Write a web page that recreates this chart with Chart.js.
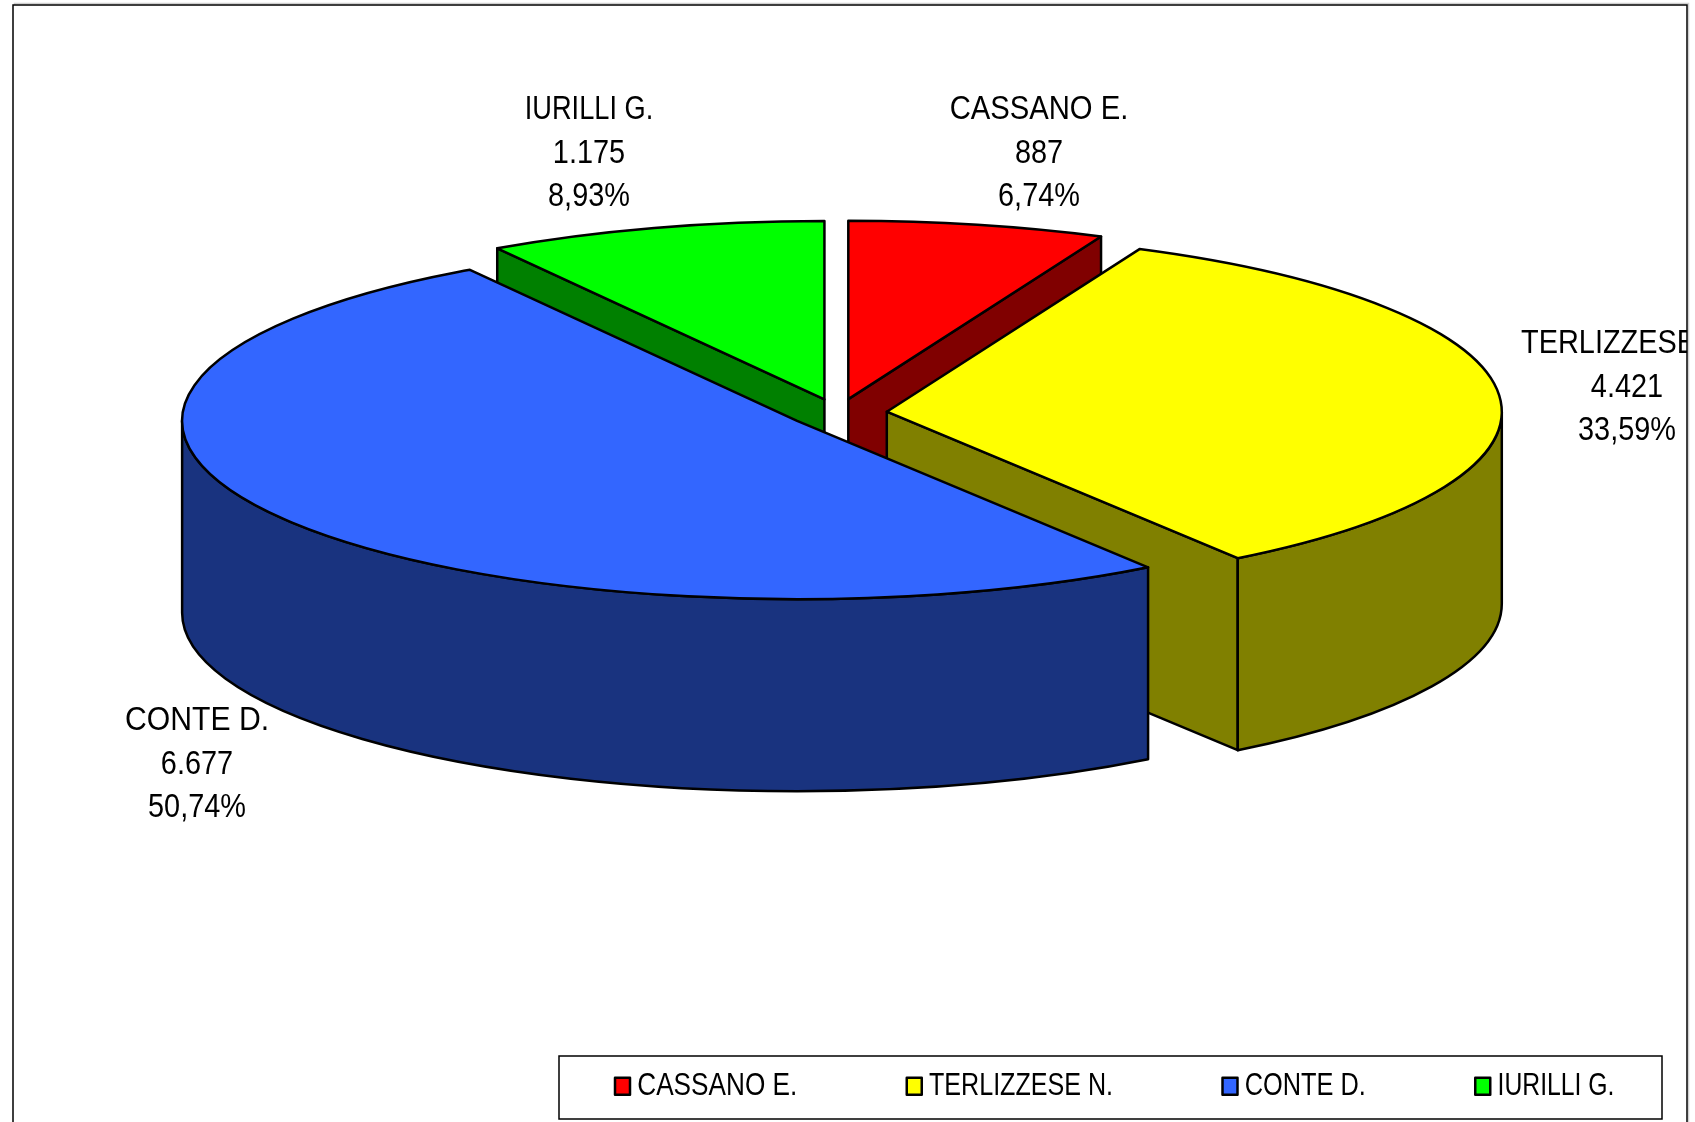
<!DOCTYPE html>
<html>
<head>
<meta charset="utf-8">
<title>Pie</title>
<script src="https://cdn.jsdelivr.net/npm/chart.js@4"></script>
<style>
    html, body { margin: 0; padding: 0; background: #fff; }
    canvas { display: block; }
</style>
</head>
<body>
<canvas id="chart" width="1695" height="1122"></canvas>
<script>
const categories = ["CASSANO E.", "TERLIZZESE N.", "CONTE D.", "IURILLI G."];
const votes = [887, 4421, 6677, 1175];
const voteLabels = ["887", "4.421", "6.677", "1.175"];
const percentLabels = ["6,74%", "33,59%", "50,74%", "8,93%"];

const topColors = ["#FF0000", "#FFFF00", "#3366FF", "#00FF00"];
const sideColors = ["#800000", "#808000", "#19337F", "#008000"];

// where the pie sits on the page
const pieX = 838, pieY = 413, pieRadius = 615, tilt = 0.29, explode = 49, depth = 192;
const outline = 2.5;
const paintOrder = [3, 0, 1, 2];
const labelSpots = [[1039, 110], [1627, 344], [197, 721], [589, 110]];
const labelFontSize = 34, labelSqueeze = 0.85;
const nameSqueeze = [0.86, 0.85, 0.887, 0.8];
const frame = { left: 13, top: 5, right: 1687 };
const legendBox = { left: 559, top: 1056, right: 1662, bottom: 1119 };
const legendFontSize = 26.5, legendTallSize = 31;
const legendWidths = [160, 184, 121, 117];
const legendGap = 103.5, legendStart = 615, legendTextY = 1073, legendTextShift = 6;

function sliceCenter(arc) {
    const mid = (arc.startAngle + arc.endAngle) / 2;
    return {
        x: pieX + Math.cos(mid) * explode,
        y: pieY + Math.sin(mid) * explode * tilt
    };
}

function drawWall(ctx, arc, color) {
    const c = sliceCenter(arc);
    const ry = pieRadius * tilt;
    const rim = a => ({ x: c.x + Math.cos(a) * pieRadius, y: c.y + Math.sin(a) * ry });

    ctx.fillStyle = color;
    ctx.strokeStyle = "#000";
    ctx.lineWidth = outline;
    ctx.lineJoin = "round";

    const flat = p => {
        ctx.beginPath();
        ctx.moveTo(c.x, c.y);
        ctx.lineTo(p.x, p.y);
        ctx.lineTo(p.x, p.y + depth);
        ctx.lineTo(c.x, c.y + depth);
        ctx.closePath();
        ctx.fill();
        ctx.stroke();
    };
    // only the cut faces turned to the viewer
    if (-Math.cos(arc.startAngle) > 0.001) flat(rim(arc.startAngle));
    if (Math.cos(arc.endAngle) > 0.001) flat(rim(arc.endAngle));

    const from = Math.max(arc.startAngle, 0);
    const to = Math.min(arc.endAngle, Math.PI);
    if (to > from) {
        ctx.beginPath();
        ctx.ellipse(c.x, c.y, pieRadius, ry, 0, from, to);
        ctx.ellipse(c.x, c.y + depth, pieRadius, ry, 0, to, from, true);
        ctx.closePath();
        ctx.fill();
        ctx.stroke();
    }
}

function drawTop(ctx, arc) {
    const c = sliceCenter(arc);
    ctx.save();
    ctx.translate(c.x, c.y);
    ctx.scale(1, tilt);
    ctx.translate(-arc.x, -arc.y);
    // keep the outline even, the squash is only for the path
    const stroke = ctx.stroke;
    ctx.stroke = function () {
        this.save();
        this.setTransform(1, 0, 0, 1, 0, 0);
        stroke.call(this);
        this.restore();
    };
    arc.draw(ctx);
    delete ctx.stroke;
    ctx.restore();
}

const tiltedPie = {
    id: "tiltedPie",
    afterInit(chart) {
        // the reference text is tall and narrow, and closer to its box
        const legend = chart.legend;
        const draw = legend.draw;
        legend.draw = function (area) {
            const ctx = chart.ctx;
            const fillText = ctx.fillText;
            const measureText = ctx.measureText;
            const widthOf = t => legendWidths[categories.indexOf(t)];
            ctx.measureText = function (t) { return { width: widthOf(t) }; };
            ctx.fillText = function (t, x, y) {
                this.save();
                this.font = legendTallSize + "px 'Liberation Sans'";
                this.translate(x - legendTextShift, y);
                this.scale(widthOf(t) / measureText.call(this, t).width, 1);
                fillText.call(this, t, 0, 0);
                this.restore();
            };
            draw.call(this, area);
            delete ctx.fillText;
            delete ctx.measureText;
        };
    },
    afterLayout(chart) {
        const legend = chart.legend;
        legend.left = legendStart - legendGap;
        legend.right = chart.width + 300; // no wrap of the last item
        legend.top = legendTextY - legendGap;
    },
    beforeDraw(chart) {
        const ctx = chart.ctx;
        ctx.save();
        // soft edge the original frames have
        ctx.lineWidth = 1.5;
        ctx.strokeStyle = "#D0D0D0";
        ctx.strokeRect(frame.left + 1.5, frame.top - 1.5, frame.right - frame.left, 1300);
        ctx.strokeStyle = "#808080";
        ctx.strokeRect(legendBox.left + 1.5, legendBox.top + 1.5,
            legendBox.right - legendBox.left, legendBox.bottom - legendBox.top);
        ctx.fillStyle = "#fff";
        ctx.fillRect(frame.left, frame.top, frame.right - frame.left, 1300);
        ctx.fillRect(legendBox.left, legendBox.top,
            legendBox.right - legendBox.left, legendBox.bottom - legendBox.top);
        ctx.strokeStyle = "#000";
        ctx.strokeRect(frame.left, frame.top, frame.right - frame.left, 1300);
        ctx.strokeRect(legendBox.left, legendBox.top,
            legendBox.right - legendBox.left, legendBox.bottom - legendBox.top);
        ctx.restore();
    },
    beforeDatasetDraw(chart, args) {
        const ctx = chart.ctx;
        const arcs = chart.getDatasetMeta(args.index).data;
        paintOrder.forEach(i => {
            drawWall(ctx, arcs[i], sideColors[i]);
            drawTop(ctx, arcs[i]);
        });
        return false;
    },
    afterDraw(chart) {
        const ctx = chart.ctx;
        ctx.save();
        ctx.beginPath();
        ctx.rect(frame.left, frame.top, frame.right - frame.left, 1300);
        ctx.clip();
        ctx.font = labelFontSize + "px 'Liberation Sans'";
        ctx.fillStyle = "#000";
        ctx.textAlign = "center";
        ctx.textBaseline = "middle";
        categories.forEach((name, i) => {
            const [x, y] = labelSpots[i];
            [name, voteLabels[i], percentLabels[i]].forEach((text, line) => {
                ctx.save();
                ctx.translate(x, y + line * 43.5);
                ctx.scale(line === 0 ? nameSqueeze[i] : labelSqueeze, 1);
                ctx.fillText(text, 0, 0);
                ctx.restore();
            });
        });
        ctx.restore();
    }
};

new Chart(document.getElementById("chart").getContext("2d"), {
    type: "pie",
    data: {
        labels: categories,
        datasets: [{
            data: votes,
            backgroundColor: topColors,
            borderColor: "#000",
            borderWidth: outline,
            borderJoinStyle: "round"
        }]
    },
    options: {
        responsive: false,
        animation: false,
        radius: pieRadius,
        plugins: {
            tooltip: { enabled: false },
            legend: {
                position: "bottom",
                align: "start",
                labels: {
                    boxWidth: 15,
                    boxHeight: 17,
                    padding: legendGap,
                    color: "#000",
                    font: { family: "'Liberation Sans'", size: legendFontSize }
                }
            }
        }
    },
    plugins: [tiltedPie]
});
</script>
</body>
</html>
